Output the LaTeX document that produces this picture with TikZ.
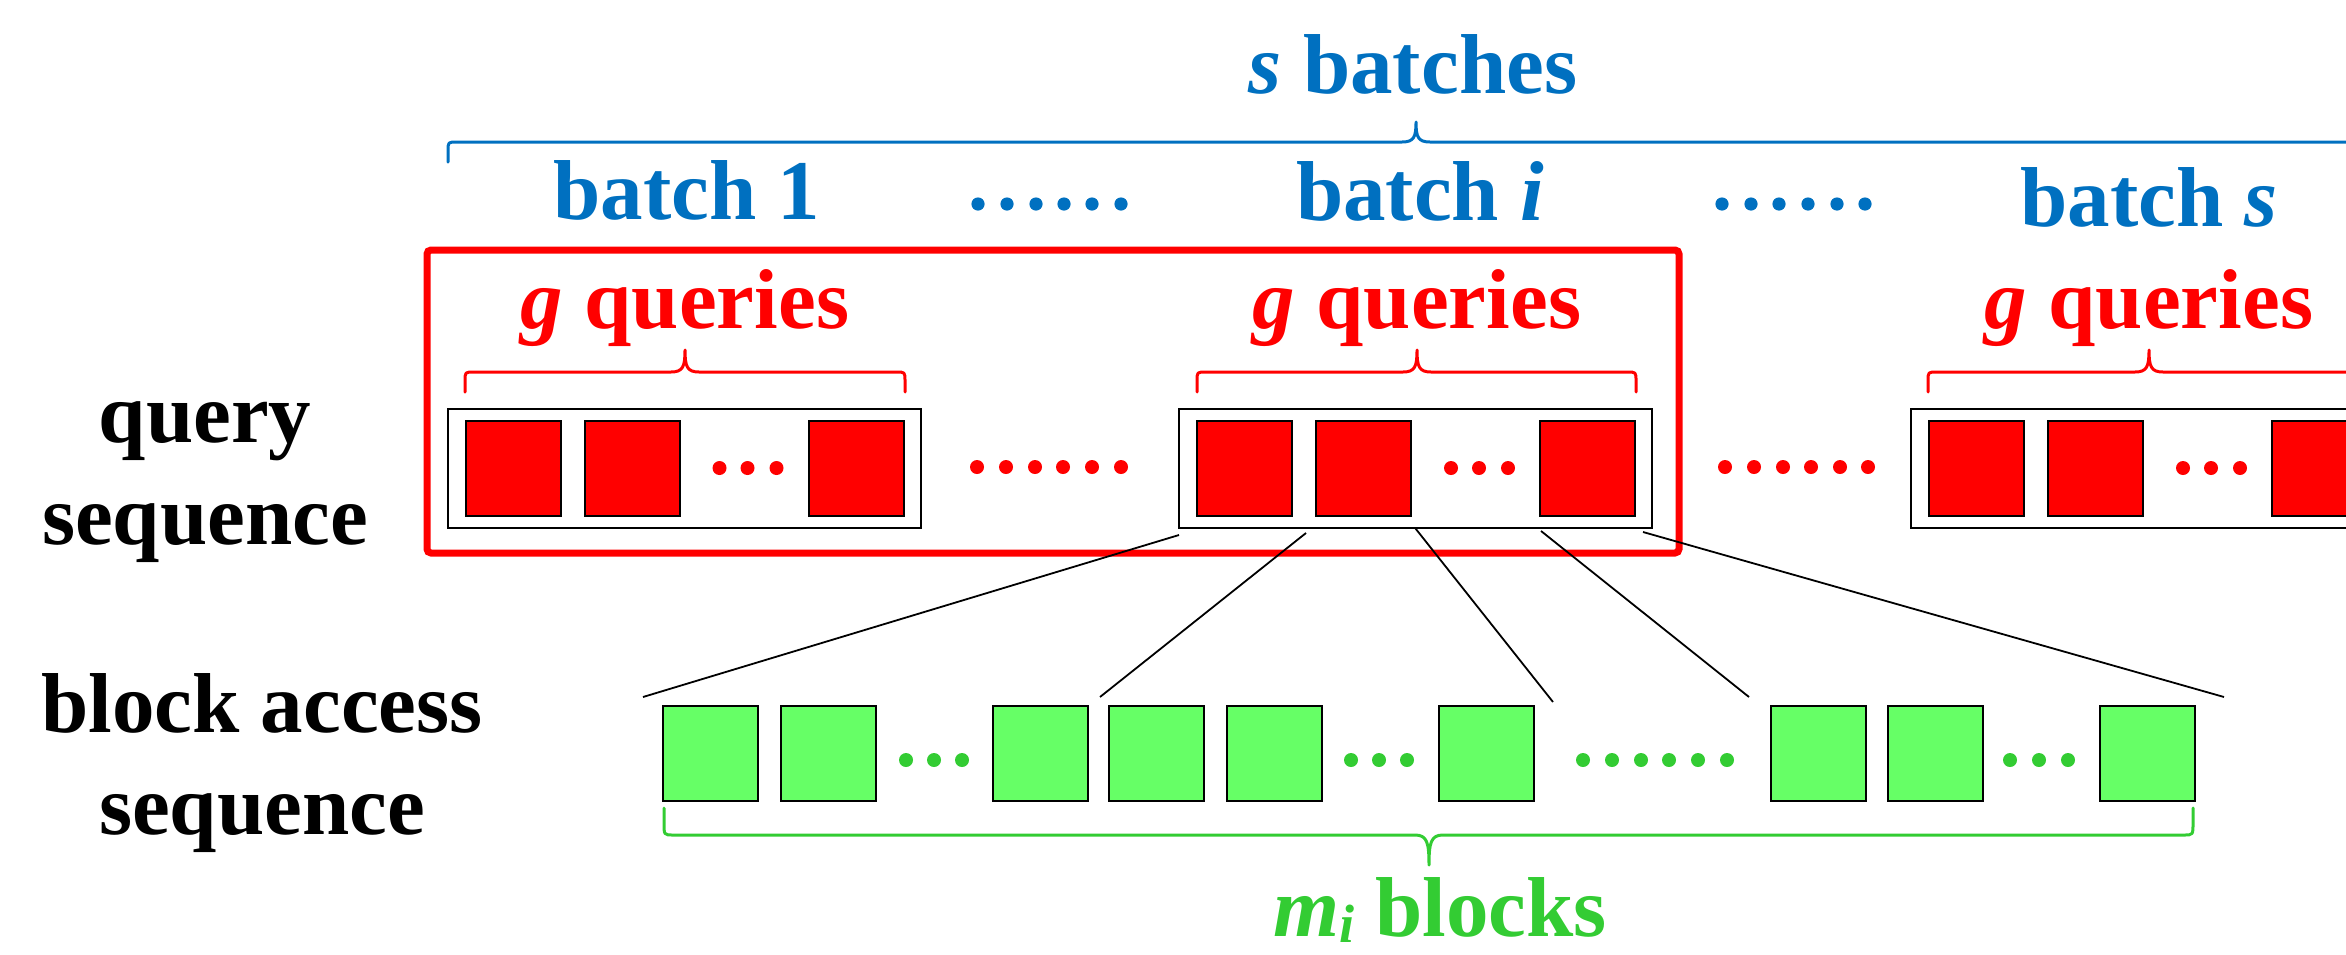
\documentclass[tikz,border=0pt]{standalone}
\usepackage{fontspec}
\setmainfont{Liberation Serif}
\definecolor{bblue}{HTML}{0070C0}
\definecolor{rred}{HTML}{FF0000}
\definecolor{gfill}{HTML}{66FF66}
\definecolor{gtext}{HTML}{33CC33}
% #1 style, #2 x0, #3 x1, #4 xm, #5 y of line, #6 y of ends, #7 y of tip
\newcommand\mybrace[7]{%
  \draw[#1] (#2,#6) -- (#2,{#5+0.45*(#6-#5)}) .. controls (#2,#5) .. ({#2+9},#5)
    -- ({#4-14},#5) .. controls ({#4-2},#5) and (#4,{#5+0.25*(#7-#5)}) .. (#4,#7)
    .. controls (#4,{#5+0.25*(#7-#5)}) and ({#4+2},#5) .. ({#4+14},#5)
    -- ({#3-9},#5) .. controls (#3,#5) .. (#3,{#5+0.45*(#6-#5)}) -- (#3,#6);}
\tikzset{
  lbl/.style={anchor=base, inner sep=0pt, align=center,
    font=\fontsize{42.5}{51}\selectfont\bfseries},
  brc/.style={line width=1.5pt, line join=round, line cap=round},
  qbox/.style={draw=black, line width=1pt, fill=white, minimum width=236.5pt,
    minimum height=59.5pt, inner sep=0pt},
  qsq/.style={draw=black, line width=1pt, fill=rred, minimum width=47.5pt,
    minimum height=47.5pt, inner sep=0pt},
  gsq/.style={draw=black, line width=1pt, fill=gfill, minimum width=47.5pt,
    minimum height=47.5pt, inner sep=0pt},
  conn/.style={draw=black, line width=0.9pt},
}
\begin{document}
\begin{tikzpicture}[x=0.5pt,y=-0.5pt]
\useasboundingbox (0,0) rectangle (2346,954);
\clip (0,0) rectangle (2346,954);

% ---- batches (blue) ----
\node[lbl, text=bblue] (sb) at (1413,93) {\textit{s} batches};
\mybrace{brc, draw=bblue}{448}{2384}{1416}{142}{162}{122}
\node[lbl, text=bblue] (b1) at (687,219) {batch 1};
\node[lbl, text=bblue] (bi) at (1420,220) {batch \textit{i}};
\node[lbl, text=bblue] (bs) at (2149,226) {batch \textit{s}};
\foreach \x in {978,1007,1036,1064,1092,1121,1722,1751,1779,1808,1837,1865}
  \fill[bblue] (\x,204) circle (3.3pt);

% ---- highlight frame ----
\draw[rred, line width=3.5pt, rounded corners=2pt] (427,250) rectangle (1679,553);

% ---- g queries ----
\foreach \c/\l/\r [count=\k] in {685/465/905, 1417/1197/1636, 2149/1928/2370} {
  \node[lbl, text=rred] (gq\k) at (\c,328) {\textit{g} queries};
  \mybrace{brc, draw=rred}{\l}{\r}{\c}{372}{392}{350}
}

% ---- query boxes ----
\foreach \cx [count=\k] in {684,1415.5,2147.5} {
  \node[qbox] (box\k) at (\cx,468) {};
  \node[qsq] (q\k a) at ({\cx-171},468.5) {};
  \node[qsq] (q\k b) at ({\cx-52},468.5) {};
  \node[qsq] (q\k c) at ({\cx+172},468.5) {};
  \foreach \d in {35.5,63.5,92.5} \fill[rred] ({\cx+\d},468) circle (3.5pt);
}
\foreach \x in {977,1006,1035,1063,1092,1121,1725,1754,1783,1811,1840,1868}
  \fill[rred] (\x,467) circle (3.5pt);

% ---- block access sequence ----
\foreach \x [count=\k] in {710.5,828.5,1040.5,1156.5,1274.5,1486.5,1818.5,1935.5,2147.5}
  \node[gsq] (g\k) at (\x,753.5) {};
\foreach \x in {906,934,962,1351,1379,1407,2010,2039,2068,1583,1612,1641,1669,1698,1727}
  \fill[gtext] (\x,760) circle (3.5pt);
\mybrace{brc, draw=gtext}{664}{2193}{1429}{835}{808}{865}
\node[lbl, text=gtext] (mb) at (1440,936)
  {\textit{m}\raisebox{-3pt}{\fontsize{27}{30}\selectfont\textit{i}} blocks};

% ---- row labels (anchor = baseline of the last line) ----
\node[lbl] (qs) at (205,544) {query\\sequence};
\node[lbl] (bas) at (262,834) {block access\\sequence};

% ---- connectors ----
\coordinate (t1) at (1179,535);
\coordinate (t2) at (1306,533);
\coordinate (t3) at (box2.south);
\coordinate (t4) at (1541,531);
\coordinate (t5) at (1643,532);
\coordinate (e1) at (643,697);
\coordinate (e2) at (1100,697);
\coordinate (e3) at (1553,702);
\coordinate (e4) at (1749,697);
\coordinate (e5) at (2224,697);
\foreach \k in {1,...,5} \draw[conn] (t\k) -- (e\k);
\end{tikzpicture}
\end{document}
